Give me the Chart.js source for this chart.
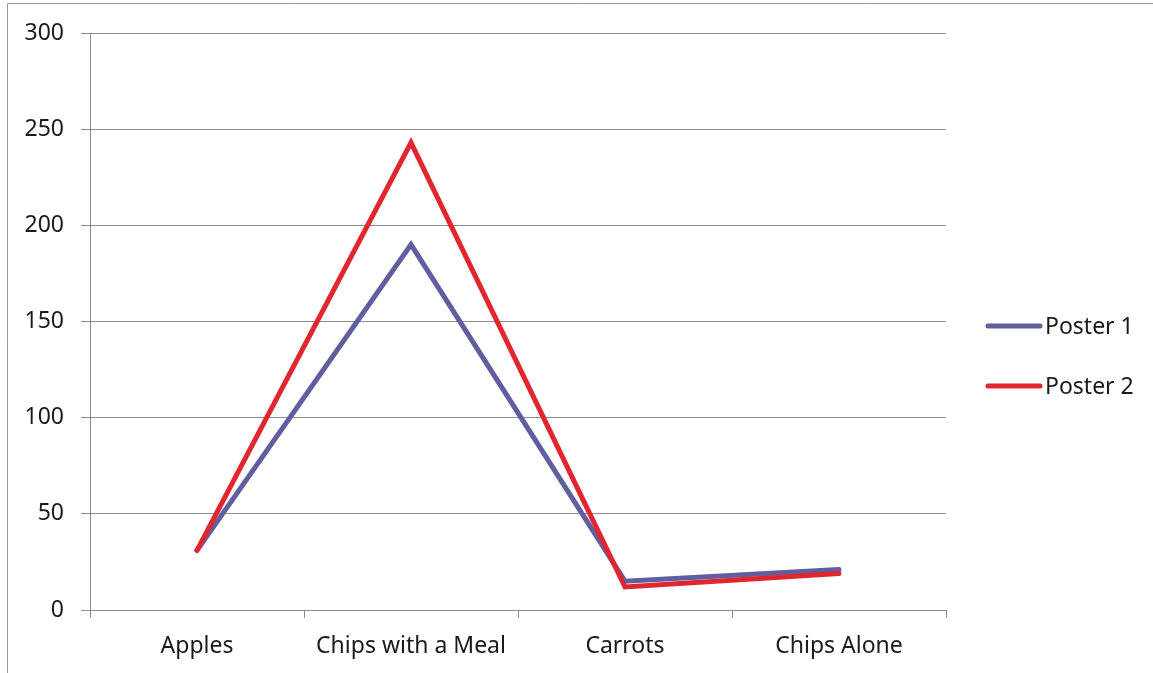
<!DOCTYPE html>
<html>
<head>
<meta charset="utf-8">
<script src="https://cdn.jsdelivr.net/npm/chart.js@4"></script>
<style>
  html, body { margin: 0; padding: 0; background: #fff; }
  #wrap { position: relative; width: 1153px; height: 673px; }
</style>
</head>
<body>
<div id="wrap"><canvas id="grafico"></canvas></div>
<script>
// dados
const categories = ['Apples', 'Chips with a Meal', 'Carrots', 'Chips Alone'];
const poster1 = [31, 190, 15, 21];
const poster2 = [31, 243, 12, 19];
const yTicks = [0, 50, 100, 150, 200, 250, 300];

const corGrade = '#8c8c8c';
const fonte = "'Noto Sans', sans-serif";

// moldura + legenda desenhadas à mão
const extras = {
  id: 'extras',
  beforeDraw(chart) {
    const ctx = chart.ctx;
    ctx.save();
    ctx.strokeStyle = '#999';
    ctx.lineWidth = 1;
    ctx.beginPath();
    ctx.moveTo(7.5, 700);
    ctx.lineTo(7.5, 3.5);
    ctx.lineTo(1200, 3.5);
    ctx.stroke();
    ctx.restore();
  },
  afterDraw(chart) {
    const ctx = chart.ctx;
    const ys = [326, 386];
    ctx.save();
    chart.data.datasets.forEach((ds, i) => {
      ctx.strokeStyle = ds.borderColor;
      ctx.lineWidth = 5;
      ctx.lineCap = 'round';
      ctx.beginPath();
      ctx.moveTo(988, ys[i]);
      ctx.lineTo(1040, ys[i]);
      ctx.stroke();
      ctx.fillStyle = '#1a1a1a';
      ctx.font = '23px ' + fonte;
      ctx.textBaseline = 'middle';
      ctx.fillText(ds.label, 1045, ys[i] + 1);
    });
    ctx.restore();
  }
};

const config = {
  type: 'line',
  data: {
    labels: categories,
    datasets: [{
      label: 'Poster 1',
      data: poster1,
      borderColor: '#5f5fa0',
      borderWidth: 5,
      order: 1
    }, {
      label: 'Poster 2',
      data: poster2,
      borderColor: '#e0262e',
      borderWidth: 5,
      order: 0
    }]
  },
  options: {
    responsive: true,
    maintainAspectRatio: false,
    animation: false,
    events: [],
    elements: {
      line: { tension: 0, borderCapStyle: 'round', borderJoinStyle: 'miter' },
      point: { radius: 0 }
    },
    layout: { padding: { left: 0, top: 33, right: 207, bottom: 0 } },
    plugins: {
      legend: { display: false },
      tooltip: { enabled: false }
    },
    scales: {
      x: {
        offset: true,
        grid: {
          offset: true,
          drawOnChartArea: false,
          drawTicks: true,
          tickLength: 8,
          color: corGrade,
          lineWidth: 1
        },
        border: { display: true, color: corGrade, width: 1 },
        ticks: {
          color: '#1a1a1a',
          font: { family: fonte, size: 23 },
          padding: 15,
          maxRotation: 0
        },
        afterFit(scale) { scale.height = 63; }
      },
      y: {
        min: 0,
        max: 300,
        afterBuildTicks(scale) {
          scale.ticks = yTicks.map(v => ({ value: v }));
        },
        grid: {
          color: corGrade,
          lineWidth: 1,
          tickLength: 9
        },
        border: { display: true, color: corGrade, width: 1 },
        ticks: {
          color: '#1a1a1a',
          font: { family: fonte, size: 23 },
          padding: 17
        },
        afterFit(scale) { scale.width = 90; }
      }
    }
  },
  plugins: [extras]
};

const ctx = document.getElementById('grafico').getContext('2d');
const meuGrafico = new Chart(ctx, config);
</script>
</body>
</html>
